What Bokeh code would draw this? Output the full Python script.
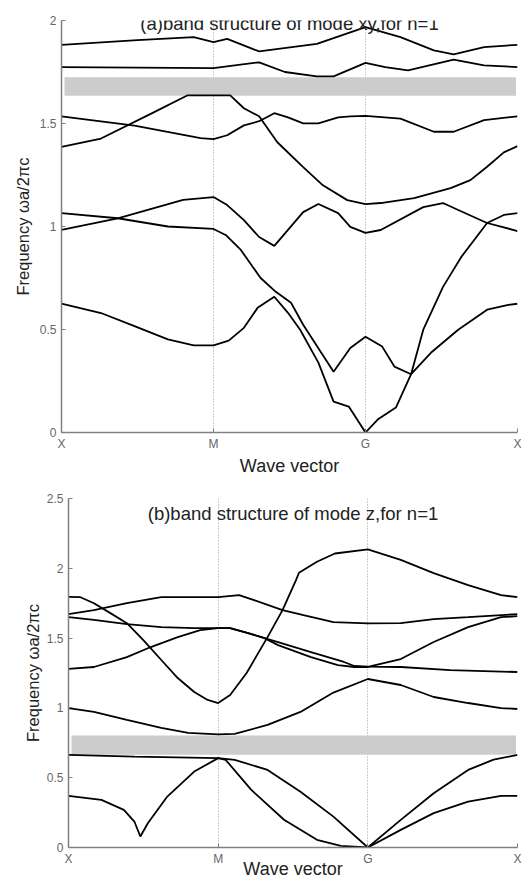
from bokeh.plotting import figure
from bokeh.models import Range1d, FixedTicker, Label
from bokeh.layouts import column, row
from bokeh.embed import file_html
from bokeh.resources import INLINE

FONT = "Liberation Sans"

# ---------------- data ----------------
tick_pos = [0, 1, 2, 3]
tick_names = ["X", "M", "G", "X"]
ya_ticks = [0, 0.5, 1, 1.5, 2]
ya_names = ["0", "0.5", "1", "1.5", "2"]
yb_ticks = [0, 0.5, 1, 1.5, 2, 2.5]
yb_names = ["0", "0.5", "1", "1.5", "2", "2.5"]

title_a = "(a)band structure of mode xy,for n=1"
title_b = "(b)band structure of mode z,for n=1"
x_title = "Wave vector"
y_title = "Frequency ωa/2πc"

gap_a = [1.635, 1.724]
gap_b = [0.665, 0.803]

# panel (a) bands
a1_k = [0, 0.5, 0.87, 1.0, 1.09, 1.30, 1.68, 2.0, 2.23, 2.45, 2.58, 2.78, 3.0]
a1_f = [1.882, 1.905, 1.919, 1.895, 1.911, 1.85, 1.887, 1.968, 1.919, 1.855, 1.835, 1.871, 1.882]
a2_k = [0, 1.0, 1.30, 1.47, 1.68, 1.79, 2.0, 2.13, 2.28, 2.58, 2.78, 3.0]
a2_f = [1.774, 1.769, 1.797, 1.75, 1.729, 1.729, 1.794, 1.774, 1.758, 1.81, 1.782, 1.774]
a3_k = [0, 0.26, 0.59, 0.83, 1.0, 1.11, 1.20, 1.30, 1.42, 1.59, 1.72, 1.88, 2.0, 2.10, 2.32, 2.56, 2.69, 2.80, 2.91, 3.0]
a3_f = [1.387, 1.427, 1.548, 1.637, 1.637, 1.637, 1.574, 1.535, 1.409, 1.288, 1.2, 1.128, 1.109, 1.114, 1.138, 1.186, 1.225, 1.29, 1.36, 1.39]
a4_k = [0, 0.48, 0.915, 1.0, 1.09, 1.20, 1.30, 1.40, 1.49, 1.59, 1.69, 1.82, 1.90, 2.0, 2.23, 2.45, 2.58, 2.78, 3.0]
a4_f = [1.535, 1.49, 1.429, 1.424, 1.443, 1.491, 1.511, 1.55, 1.53, 1.501, 1.501, 1.53, 1.535, 1.537, 1.524, 1.46, 1.46, 1.516, 1.535]
a5_k = [0, 0.37, 0.70, 1.0, 1.08, 1.18, 1.31, 1.41, 1.51, 1.59, 1.79, 1.90, 2.0, 2.11, 2.19, 2.30, 2.38, 2.51, 2.63, 2.80, 2.91, 3.0]
a5_f = [1.065, 1.04, 1.0, 0.988, 0.959, 0.886, 0.75, 0.683, 0.63, 0.523, 0.295, 0.41, 0.465, 0.417, 0.32, 0.283, 0.499, 0.707, 0.852, 1.017, 1.056, 1.065]
a6_k = [0, 0.37, 0.80, 1.0, 1.09, 1.20, 1.30, 1.40, 1.59, 1.69, 1.82, 1.90, 2.0, 2.10, 2.38, 2.51, 2.61, 2.80, 3.0]
a6_f = [0.984, 1.04, 1.129, 1.143, 1.104, 1.031, 0.949, 0.906, 1.07, 1.109, 1.065, 0.998, 0.969, 0.983, 1.094, 1.114, 1.08, 1.017, 0.978]
a7_k = [0, 0.26, 0.48, 0.70, 0.87, 1.0, 1.10, 1.20, 1.29, 1.40, 1.49, 1.57, 1.69, 1.79, 1.89, 2.0, 2.08, 2.20, 2.30, 2.43, 2.61, 2.80, 2.94, 3.0]
a7_f = [0.626, 0.58, 0.516, 0.452, 0.423, 0.423, 0.446, 0.508, 0.605, 0.659, 0.581, 0.499, 0.339, 0.15, 0.126, 0.0, 0.063, 0.121, 0.283, 0.387, 0.499, 0.596, 0.62, 0.625]

# panel (b) bands
b1_k = [0, 0.08, 0.17, 0.28, 0.39, 0.50, 0.62, 0.73, 0.84, 0.93, 1.0, 1.08, 1.19, 1.33, 1.43, 1.52, 1.54, 1.66, 1.78, 2.0, 2.22, 2.44, 2.67, 2.89, 3.0]
b1_f = [1.796, 1.793, 1.75, 1.679, 1.607, 1.486, 1.343, 1.214, 1.114, 1.057, 1.035, 1.092, 1.25, 1.507, 1.7, 1.915, 1.968, 2.047, 2.106, 2.135, 2.06, 1.965, 1.879, 1.808, 1.793]
b2_k = [0, 0.17, 0.39, 0.62, 1.0, 1.14, 1.24, 1.43, 1.57, 1.77, 2.0, 2.22, 2.44, 2.67, 3.0]
b2_f = [1.672, 1.7, 1.75, 1.793, 1.793, 1.808, 1.772, 1.7, 1.664, 1.614, 1.605, 1.607, 1.636, 1.65, 1.672]
b3_k = [0, 0.17, 0.39, 0.62, 0.84, 1.0, 1.08, 1.20, 1.31, 1.40, 1.62, 1.84, 1.91, 2.0, 2.22, 2.55, 3.0]
b3_f = [1.65, 1.63, 1.6, 1.579, 1.572, 1.572, 1.572, 1.536, 1.5, 1.471, 1.4, 1.329, 1.3, 1.295, 1.293, 1.271, 1.257]
b4_k = [0, 0.17, 0.39, 0.55, 0.73, 0.88, 1.0, 1.08, 1.20, 1.31, 1.40, 1.62, 1.80, 1.91, 2.0, 2.22, 2.44, 2.67, 2.89, 3.0]
b4_f = [1.279, 1.293, 1.364, 1.436, 1.507, 1.557, 1.572, 1.572, 1.536, 1.5, 1.45, 1.364, 1.307, 1.293, 1.293, 1.35, 1.472, 1.579, 1.65, 1.657]
b5_k = [0, 0.17, 0.39, 0.62, 0.80, 1.0, 1.11, 1.33, 1.55, 1.77, 2.0, 2.22, 2.44, 2.67, 2.89, 3.0]
b5_f = [0.999, 0.971, 0.914, 0.857, 0.821, 0.81, 0.814, 0.878, 0.971, 1.11, 1.207, 1.164, 1.078, 1.035, 0.999, 0.992]
b6_k = [0, 0.44, 1.0, 1.11, 1.33, 1.55, 1.77, 2.0, 2.22, 2.44, 2.67, 2.84, 3.0]
b6_f = [0.663, 0.651, 0.64, 0.628, 0.556, 0.399, 0.221, 0.0, 0.198, 0.389, 0.556, 0.629, 0.663]
b7_k = [0, 0.22, 0.37, 0.44, 0.48, 0.53, 0.66, 0.84, 1.0, 1.05, 1.22, 1.44, 1.66, 1.82, 2.0, 2.22, 2.44, 2.67, 2.89, 3.0]
b7_f = [0.37, 0.341, 0.27, 0.186, 0.079, 0.174, 0.365, 0.544, 0.64, 0.628, 0.414, 0.199, 0.055, 0.012, 0.0, 0.126, 0.246, 0.329, 0.37, 0.37]

bands_a = [(a1_k, a1_f), (a2_k, a2_f), (a3_k, a3_f), (a4_k, a4_f), (a5_k, a5_f), (a6_k, a6_f), (a7_k, a7_f)]
bands_b = [(b1_k, b1_f), (b2_k, b2_f), (b3_k, b3_f), (b4_k, b4_f), (b5_k, b5_f), (b6_k, b6_f), (b7_k, b7_f)]


def make_panel(height, ymax, yticks, ynames, gap, bands, title, title_y,
               b_left, b_top, b_bottom, ylab_standoff, xlab_standoff):
    p = figure(width=521, height=height, output_backend="svg", toolbar_location=None,
               x_range=Range1d(0, 3), y_range=Range1d(0, ymax),
               min_border_left=b_left, min_border_right=4,
               min_border_top=b_top, min_border_bottom=b_bottom)
    p.outline_line_color = None
    p.background_fill_color = "white"
    p.border_fill_color = "white"

    # axes
    p.xaxis.ticker = FixedTicker(ticks=tick_pos)
    p.xaxis.major_label_overrides = {t: n for t, n in zip(tick_pos, tick_names)}
    p.yaxis.ticker = FixedTicker(ticks=yticks)
    p.yaxis.major_label_overrides = {t: n for t, n in zip(yticks, ynames)}
    for ax in (p.xaxis, p.yaxis):
        ax.axis_line_color = "#808080"
        ax.axis_line_width = 1.5
        ax.major_tick_in = 4
        ax.major_tick_out = 0
        ax.major_tick_line_color = "#808080"
        ax.minor_tick_line_color = None
        ax.major_label_text_font = FONT
        ax.major_label_text_font_size = "12px"
        ax.major_label_text_color = "#666666"
        ax.major_label_standoff = 4
        ax.axis_label_text_font = FONT
        ax.axis_label_text_font_size = "16.5px"
        ax.axis_label_text_font_style = "normal"
        ax.axis_label_text_color = "#222222"
    p.yaxis.axis_label = y_title
    p.yaxis.axis_label_standoff = ylab_standoff
    p.yaxis.major_label_standoff = 5
    p.xaxis.axis_label = x_title
    p.xaxis.axis_label_text_font_size = "18px"
    p.xaxis.axis_label_standoff = xlab_standoff

    # grid: dotted verticals at symmetry points
    p.xgrid.ticker = FixedTicker(ticks=tick_pos[1:])
    p.xgrid.grid_line_color = "#999999"
    p.xgrid.grid_line_dash = "1 2"
    p.xgrid.grid_line_width = 1
    p.ygrid.visible = False

    # band gap
    p.quad(left=0.02, right=2.99, bottom=gap[0], top=gap[1],
           fill_color="#cccccc", line_color=None)

    for k, f in bands:
        p.line(k, f, line_color="black", line_width=1.8)

    p.add_layout(Label(x=1.5, y=title_y, text=title, text_align="center",
                       text_baseline="middle", text_font=FONT,
                       text_font_size="18.5px", text_color="#222222"))
    return p


pa = make_panel(478, 2, ya_ticks, ya_names, gap_a, bands_a, title_a, 1.985,
                61, 20, 45, 5, 2)
pb = make_panel(403, 2.5, yb_ticks, yb_names, gap_b, bands_b, title_b, 2.394,
                68, 20, 33, 2, -10)

layout = column(row(pa), row(pb), spacing=0)
open("out.html", "w").write(file_html(layout, INLINE))
